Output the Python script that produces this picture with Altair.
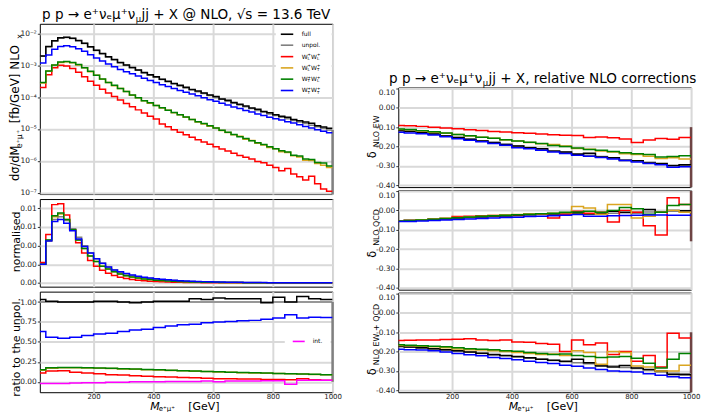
import altair as alt
import pandas as pd

FONT = "DejaVu Sans"
W = 294  # plot width of every panel

# ---------------------------------------------------------------- binning
FINE_EDGES = list(range(20, 1001, 20))            # 49 bins of 20 GeV
COARSE_EDGES = [20] + list(range(40, 1001, 40))   # 20-40 GeV, then 40 GeV bins

# ------------------------------------------- log10( dsigma/dM [fb/GeV] )
LOG_FULL = [-2.71, -2.41, -2.23, -2.14, -2.12, -2.15, -2.22, -2.31, -2.42, -2.53,
            -2.63, -2.73, -2.82, -2.91, -2.99, -3.07, -3.15, -3.23, -3.30, -3.36,
            -3.44, -3.50, -3.57, -3.63, -3.69, -3.76, -3.81, -3.87, -3.93, -3.98,
            -4.06, -4.10, -4.17, -4.22, -4.28, -4.34, -4.38, -4.45, -4.49, -4.55,
            -4.60, -4.63, -4.70, -4.74, -4.78, -4.82, -4.90, -4.94, -4.98]
LOG_UNPOL = [-2.72, -2.42, -2.24, -2.15, -2.13, -2.16, -2.23, -2.32, -2.43, -2.54,
             -2.64, -2.74, -2.83, -2.92, -3.00, -3.08, -3.16, -3.24, -3.31, -3.38,
             -3.45, -3.52, -3.58, -3.65, -3.71, -3.77, -3.83, -3.89, -3.95, -4.01,
             -4.07, -4.13, -4.19, -4.25, -4.30, -4.36, -4.42, -4.47, -4.53, -4.58,
             -4.63, -4.68, -4.73, -4.78, -4.83, -4.88, -4.93, -4.98, -5.03]
LOG_LL = [-3.70, -3.30, -3.08, -3.00, -3.02, -3.10, -3.22, -3.36, -3.50, -3.63,
          -3.75, -3.87, -3.98, -4.09, -4.20, -4.30, -4.40, -4.50, -4.60, -4.69,
          -4.84, -4.93, -5.02, -5.10, -5.18, -5.26, -5.34, -5.41, -5.48, -5.56,
          -5.63, -5.69, -5.76, -5.83, -5.89, -5.94, -6.02, -6.06, -6.14, -6.21,
          -6.31, -6.24, -6.41, -6.50, -6.60, -6.48, -6.72, -6.88, -6.95]
LOG_LT = [-3.56, -3.19, -3.00, -2.91, -2.89, -2.92, -2.99, -3.08, -3.20, -3.31,
          -3.44, -3.54, -3.64, -3.73, -3.82, -3.94, -4.02, -4.11, -4.19, -4.26,
          -4.34, -4.41, -4.49, -4.55, -4.63, -4.70, -4.78, -4.84, -4.91, -4.97,
          -5.05, -5.11, -5.18, -5.23, -5.32, -5.36, -5.45, -5.50, -5.58, -5.62,
          -5.71, -5.74, -5.84, -5.88, -5.98, -5.99, -6.08, -6.14, -6.21]
LOG_TL = [-3.54, -3.18, -2.99, -2.90, -2.88, -2.91, -2.98, -3.08, -3.19, -3.31,
          -3.43, -3.54, -3.63, -3.73, -3.82, -3.93, -4.02, -4.11, -4.18, -4.26,
          -4.33, -4.41, -4.48, -4.55, -4.62, -4.70, -4.77, -4.83, -4.90, -4.97,
          -5.04, -5.10, -5.17, -5.24, -5.30, -5.37, -5.43, -5.49, -5.56, -5.62,
          -5.68, -5.72, -5.82, -5.85, -5.94, -5.96, -6.05, -6.07, -6.16]
LOG_TT = [-2.93, -2.68, -2.50, -2.41, -2.39, -2.42, -2.48, -2.56, -2.67, -2.77,
          -2.87, -2.96, -3.05, -3.13, -3.20, -3.27, -3.34, -3.41, -3.48, -3.54,
          -3.61, -3.67, -3.73, -3.79, -3.85, -3.90, -3.96, -4.02, -4.08, -4.13,
          -4.19, -4.25, -4.31, -4.36, -4.42, -4.47, -4.53, -4.58, -4.63, -4.68,
          -4.72, -4.77, -4.81, -4.87, -4.92, -4.97, -5.02, -5.07, -5.12]

# ------------------------------------------------ normalised shapes [1/GeV]
NORM_UNPOL = [0.0021, 0.0046, 0.0068, 0.0071, 0.0067, 0.0058, 0.0049, 0.0040, 0.0032, 0.0026,
              0.0021, 0.0017, 0.0014, 0.00115, 0.00095, 0.00079, 0.00066, 0.00055, 0.00047, 0.0004,
              0.00034, 0.00029, 0.00025, 0.00021, 0.00018, 0.00016, 0.00014, 0.00012, 0.0001, 0.00009,
              0.00008, 0.00007, 0.00006, 0.00005, 0.000045, 0.00004, 0.000035, 0.00003, 0.000027, 0.000024,
              0.000021, 0.000019, 0.000017, 0.000015, 0.000013, 0.000012, 0.000011, 0.00001, 0.000009]
NORM_LL = [0.0022, 0.0052, 0.0084, 0.0085, 0.0073, 0.0057, 0.0043, 0.0032, 0.0024, 0.0018,
           0.00135, 0.00103, 0.0008, 0.00062, 0.00048, 0.00038, 0.0003, 0.00024, 0.00019, 0.00015,
           0.00012, 0.0001, 0.00008, 0.000065, 0.000053, 0.000043, 0.000036, 0.00003, 0.000025, 0.000021,
           0.000018, 0.000015, 0.000013, 0.000011, 0.0000095, 0.000008, 0.000007, 0.000006, 0.000005, 0.0000045,
           0.000004, 0.0000035, 0.000003, 0.0000027, 0.0000024, 0.000002, 0.0000018, 0.0000016, 0.0000014]
NORM_LT = [0.0020, 0.0045, 0.0071, 0.0074, 0.0068, 0.0057, 0.0046, 0.0037, 0.0029, 0.0023,
           0.0018, 0.0015, 0.0012, 0.00095, 0.00078, 0.00064, 0.00052, 0.00043, 0.00036, 0.0003,
           0.00025, 0.00021, 0.00018, 0.00015, 0.00013, 0.00011, 0.000095, 0.00008, 0.00007, 0.00006,
           0.00005, 0.000045, 0.00004, 0.000035, 0.00003, 0.000026, 0.000023, 0.00002, 0.000018, 0.000016,
           0.000014, 0.000012, 0.000011, 0.00001, 0.000009, 0.000008, 0.000007, 0.0000065, 0.000006]
NORM_TL = [0.0020, 0.0046, 0.0072, 0.0075, 0.0068, 0.0057, 0.0046, 0.0037, 0.0029, 0.0023,
           0.0018, 0.0015, 0.0012, 0.00095, 0.00078, 0.00064, 0.00052, 0.00043, 0.00036, 0.0003,
           0.00025, 0.00021, 0.00018, 0.00015, 0.00013, 0.00011, 0.000095, 0.00008, 0.00007, 0.00006,
           0.00005, 0.000045, 0.00004, 0.000035, 0.00003, 0.000026, 0.000023, 0.00002, 0.000018, 0.000016,
           0.000014, 0.000012, 0.000011, 0.00001, 0.000009, 0.000008, 0.000007, 0.0000065, 0.000006]
NORM_TT = [0.0020, 0.0045, 0.0066, 0.0068, 0.0064, 0.0056, 0.0047, 0.0039, 0.0032, 0.0026,
           0.0021, 0.0017, 0.0014, 0.0012, 0.0010, 0.00085, 0.00072, 0.00062, 0.00053, 0.00045,
           0.00039, 0.00033, 0.00028, 0.00024, 0.00021, 0.00018, 0.00016, 0.00014, 0.00012, 0.0001,
           0.00009, 0.00008, 0.00007, 0.00006, 0.000052, 0.000046, 0.00004, 0.000035, 0.000031, 0.000027,
           0.000024, 0.000021, 0.000019, 0.000017, 0.000015, 0.000013, 0.000012, 0.000011, 0.00001]

# ------------------------------------------------ ratios to the unpolarised
RAT_FULL = [1.03, 1.01, 1.00, 1.00, 1.00, 1.01, 1.01, 1.00, 0.99, 1.00, 1.01, 1.01, 1.01,
            1.04, 1.03, 1.05, 1.04, 1.04, 1.04, 0.99, 1.06, 1.00, 1.07, 1.04, 1.03]
RAT_UNPOL = [1.0] * 25
RAT_LL = [0.11, 0.135, 0.14, 0.12, 0.11, 0.10, 0.09, 0.085, 0.075, 0.07, 0.065, 0.06, 0.055,
          0.05, 0.045, 0.04, 0.04, 0.035, 0.035, 0.03, 0.03, 0.025, 0.04, 0.025, 0.02]
RAT_LT = [0.145, 0.17, 0.177, 0.177, 0.174, 0.17, 0.167, 0.162, 0.157, 0.152, 0.148, 0.143, 0.138,
          0.133, 0.128, 0.123, 0.12, 0.115, 0.112, 0.108, 0.104, 0.1, 0.097, 0.093, 0.088]
RAT_TL = [0.15, 0.175, 0.18, 0.18, 0.177, 0.173, 0.17, 0.165, 0.16, 0.155, 0.15, 0.145, 0.14,
          0.135, 0.13, 0.125, 0.12, 0.117, 0.113, 0.11, 0.105, 0.1, 0.098, 0.095, 0.09]
RAT_TT = [0.63, 0.56, 0.545, 0.56, 0.58, 0.60, 0.61, 0.63, 0.65, 0.66, 0.68, 0.70, 0.715,
          0.72, 0.74, 0.75, 0.755, 0.765, 0.77, 0.785, 0.80, 0.84, 0.80, 0.81, 0.805]
RAT_INT = [-0.02, -0.02, -0.02, -0.015, -0.01, -0.01, -0.005, -0.005, 0.0, 0.0, 0.0, 0.005, 0.005,
           0.005, 0.01, 0.0, 0.01, 0.01, 0.01, 0.015, 0.015, -0.03, 0.02, 0.02, 0.02]

# ------------------------------------------------ relative NLO EW corrections
EW_FULL = [-0.118, -0.121, -0.127, -0.135, -0.146, -0.153, -0.163, -0.172, -0.179, -0.190, -0.197, -0.207, -0.212,
           -0.224, -0.228, -0.240, -0.235, -0.255, -0.258, -0.272, -0.274, -0.285, -0.288, -0.298, -0.295]
EW_UNPOL = [-0.120, -0.122, -0.128, -0.136, -0.145, -0.154, -0.162, -0.170, -0.180, -0.188, -0.198, -0.205, -0.214,
            -0.222, -0.230, -0.238, -0.245, -0.252, -0.260, -0.268, -0.275, -0.282, -0.290, -0.300, -0.298]
EW_LL = [-0.091, -0.093, -0.096, -0.100, -0.105, -0.108, -0.113, -0.117, -0.122, -0.125, -0.129, -0.132, -0.136,
         -0.139, -0.142, -0.143, -0.154, -0.151, -0.155, -0.161, -0.180, -0.166, -0.159, -0.162, -0.154]
EW_LT = [-0.112, -0.114, -0.120, -0.126, -0.132, -0.138, -0.146, -0.152, -0.158, -0.166, -0.172, -0.180, -0.186,
         -0.190, -0.198, -0.210, -0.214, -0.224, -0.228, -0.238, -0.242, -0.250, -0.262, -0.258, -0.265]
EW_TL = [-0.110, -0.112, -0.118, -0.124, -0.130, -0.138, -0.145, -0.152, -0.158, -0.165, -0.172, -0.178, -0.185,
         -0.195, -0.200, -0.208, -0.215, -0.220, -0.226, -0.232, -0.237, -0.242, -0.255, -0.252, -0.248]
EW_TT = [-0.127, -0.130, -0.134, -0.141, -0.150, -0.160, -0.168, -0.176, -0.185, -0.193, -0.206, -0.212, -0.220,
         -0.228, -0.236, -0.245, -0.250, -0.257, -0.265, -0.273, -0.280, -0.288, -0.295, -0.308, -0.305]

# ------------------------------------------------ relative NLO QCD corrections
QCD_FULL = [-0.054, -0.052, -0.049, -0.046, -0.043, -0.040, -0.036, -0.033, -0.031, -0.028, -0.026, -0.022, -0.020,
            -0.018, -0.014, -0.012, -0.018, -0.015, -0.005, -0.010, -0.012, 0.005, -0.010, 0.000, -0.002]
QCD_UNPOL = [-0.055, -0.053, -0.050, -0.047, -0.044, -0.041, -0.038, -0.035, -0.032, -0.030, -0.027, -0.025, -0.022,
             -0.020, -0.018, -0.015, -0.020, -0.018, -0.015, -0.012, -0.010, -0.008, -0.010, -0.005, -0.005]
QCD_LL = [-0.055, -0.053, -0.050, -0.046, -0.042, -0.032, -0.030, -0.028, -0.027, -0.025, -0.022, -0.020, -0.020,
          -0.040, -0.020, -0.005, -0.015, -0.010, -0.060, 0.000, -0.010, -0.080, -0.127, 0.065, 0.030]
QCD_LT = [-0.055, -0.052, -0.049, -0.045, -0.041, -0.037, -0.033, -0.030, -0.027, -0.024, -0.021, -0.019, -0.017,
          -0.015, -0.012, 0.020, 0.012, -0.020, 0.030, 0.030, -0.040, -0.030, -0.010, 0.000, -0.010]
QCD_TL = [-0.055, -0.053, -0.050, -0.046, -0.042, -0.038, -0.034, -0.030, -0.028, -0.025, -0.022, -0.020, -0.018,
          -0.015, -0.010, -0.008, -0.005, -0.010, 0.000, 0.015, 0.008, -0.020, -0.010, 0.025, 0.030]
QCD_TT = [-0.058, -0.057, -0.055, -0.052, -0.050, -0.047, -0.045, -0.042, -0.040, -0.037, -0.035, -0.032, -0.030,
          -0.028, -0.025, -0.022, -0.030, -0.030, -0.028, -0.026, -0.025, -0.024, -0.024, -0.025, -0.025]

# ------------------------------------------------ relative NLO EW + QCD corrections
EWQCD_FULL = [-0.172, -0.176, -0.180, -0.185, -0.190, -0.196, -0.202, -0.208, -0.215, -0.220, -0.225, -0.232, -0.240,
              -0.245, -0.250, -0.240, -0.258, -0.275, -0.280, -0.272, -0.285, -0.292, -0.300, -0.318, -0.320]
EWQCD_UNPOL = [-0.175, -0.178, -0.182, -0.186, -0.192, -0.198, -0.203, -0.210, -0.217, -0.222, -0.228, -0.234, -0.240,
               -0.246, -0.252, -0.258, -0.263, -0.270, -0.275, -0.282, -0.288, -0.295, -0.305, -0.312, -0.315]
EWQCD_LL = [-0.142, -0.141, -0.140, -0.140, -0.138, -0.136, -0.134, -0.140, -0.142, -0.140, -0.150, -0.152, -0.158,
            -0.162, -0.200, -0.140, -0.165, -0.155, -0.215, -0.200, -0.250, -0.220, -0.280, -0.105, -0.130]
EWQCD_LT = [-0.168, -0.170, -0.172, -0.175, -0.180, -0.186, -0.190, -0.192, -0.196, -0.200, -0.205, -0.210, -0.215,
            -0.212, -0.220, -0.195, -0.205, -0.265, -0.200, -0.205, -0.275, -0.280, -0.300, -0.300, -0.270]
EWQCD_TL = [-0.165, -0.167, -0.170, -0.172, -0.175, -0.180, -0.185, -0.188, -0.190, -0.195, -0.198, -0.205, -0.210,
            -0.215, -0.212, -0.220, -0.225, -0.230, -0.228, -0.225, -0.235, -0.260, -0.285, -0.240, -0.210]
EWQCD_TT = [-0.188, -0.190, -0.192, -0.196, -0.202, -0.210, -0.216, -0.222, -0.230, -0.236, -0.242, -0.250, -0.256,
            -0.262, -0.270, -0.276, -0.285, -0.292, -0.300, -0.303, -0.305, -0.315, -0.322, -0.330, -0.335]

COLORS = {"full": "#000000", "unpol": "#808080", "LL": "#ff0000", "LT": "#daa520",
          "TL": "#008000", "TT": "#0000ff", "int": "#ff00ff"}
DRAW_ORDER = ["unpol", "full", "LL", "LT", "TL", "TT"]
EDGE_COLOR = "#6e4444"

XSCALE = alt.Scale(domain=[20, 1000], nice=False, zero=False)
XTICKS = [200, 400, 600, 800, 1000]
MINUS_FIX = "replace(format(datum.value, '.2f'), '\u2212', '-')"
LOG_LABELS = ("datum.value < 3e-7 ? '10\u207b\u2077' : datum.value < 3e-6 ? '10\u207b\u2076' : "
              "datum.value < 3e-5 ? '10\u207b\u2075' : datum.value < 3e-4 ? '10\u207b\u2074' : "
              "datum.value < 3e-3 ? '10\u207b\u00b3' : '10\u207b\u00b2'")


def x_axis(labels):
    return alt.Axis(values=XTICKS, labels=labels, ticks=False, tickSize=0, title=None, grid=True,
                    labelFlush=False, labelPadding=0, labelFontSize=7, format="d")


def y_axis(values, expr, flush=False):
    return alt.Axis(values=values, labelExpr=expr, title=None, grid=True, labelOverlap=False,
                    labelFlush=flush)


def histograms(edges, table, keys, yscale, yaxis, xaxis, log=False):
    layers = []
    for k in keys:
        vals = [10 ** v for v in table[k]] if log else list(table[k])
        df = pd.DataFrame({"m": edges, "v": vals + [vals[-1]]})
        layers.append(
            alt.Chart(df)
            .mark_line(interpolate="step-after", color=COLORS[k], strokeWidth=1.5, clip=True)
            .encode(x=alt.X("m:Q", scale=XSCALE, axis=xaxis),
                    y=alt.Y("v:Q", scale=yscale, axis=yaxis))
        )
    return layers


def edge_drop(top, bottom, color, yscale, yaxis, xaxis):
    # closing vertical edge of the last histogram bin
    df = pd.DataFrame({"m": [1000], "a": [top], "b": [bottom]})
    return (alt.Chart(df).mark_rule(color=color, strokeWidth=2.5)
            .encode(x=alt.X("m:Q", scale=XSCALE, axis=xaxis),
                    y=alt.Y("a:Q", scale=yscale, axis=yaxis), y2="b:Q"))


def txt(s, x, y, size, align="left", angle=0, style="normal", baseline="alphabetic", color="black"):
    return (alt.Chart(pd.DataFrame({"t": [s]}))
            .mark_text(font=FONT, fontSize=size, align=align, angle=angle, fontStyle=style,
                       baseline=baseline, color=color)
            .encode(x=alt.value(x), y=alt.value(y), text="t:N"))


def box(x1, x2, y1, y2, fill="white", opacity=1.0):
    return (alt.Chart(pd.DataFrame({"a": [0]}))
            .mark_rect(fill=fill, opacity=opacity)
            .encode(x=alt.value(x1), x2=alt.value(x2), y=alt.value(y1), y2=alt.value(y2)))


def seg(x1, x2, y, color):
    return (alt.Chart(pd.DataFrame({"a": [0]}))
            .mark_rule(color=color, strokeWidth=1.6)
            .encode(x=alt.value(x1), x2=alt.value(x2), y=alt.value(y)))


def w_pair(x, y, a, b):
    # "W^+_a W^+_b" with stacked super- and subscripts
    return [txt("W", x, y, 6), txt("+", x + 5.9, y - 2.6, 4), txt(a, x + 5.9, y + 1.3, 4),
            txt("W", x + 9.4, y, 6), txt("+", x + 15.3, y - 2.6, 4), txt(b, x + 15.3, y + 1.3, 4)]


def m_title(y):
    # "M_{e+mu+} [GeV]" below the bottom panels
    return [txt("M", 111, y, 11, style="italic"), txt("e\u207a\u03bc\u207a", 119.5, y + 1.2, 7),
            txt("[GeV]", 149, y, 11)]


def process_title(x_join, tail):
    # "p p -> e+ nu_e mu+ nu_mu" with a lowered mu, followed by the rest
    return [txt("p p  \u2192 e\u207a\u03bd\u2091\u03bc\u207a\u03bd", x_join, -5, 13.6, align="right"),
            txt("\u03bc", x_join + 0.3, -2, 8.5),
            txt(tail, x_join + 6, -5, 13.6)]


# ================================================================ left column
TOP = {"full": LOG_FULL, "unpol": LOG_UNPOL, "LL": LOG_LL, "LT": LOG_LT, "TL": LOG_TL, "TT": LOG_TT}
ysc_top = alt.Scale(type="log", domain=[9.1e-8, 2.0e-2], nice=False)
yax_top = y_axis([1e-7, 1e-6, 1e-5, 1e-4, 1e-3, 1e-2], LOG_LABELS)
xax_hide = x_axis(False)

legend_rows = [("full", 10.5), ("unpol", 21.5), ("LL", 33.0), ("LT", 44.3), ("TL", 55.6), ("TT", 67.0)]
legend = [box(237, 293, 3, 73)]
for key, ly in legend_rows:
    legend.append(seg(242, 254.5, ly, COLORS[key]))
legend += [txt("full", 263, 12.5, 6), txt("unpol.", 263, 23.5, 6)]
legend += w_pair(263, 35.0, "L", "L") + w_pair(263, 46.3, "L", "T")
legend += w_pair(263, 57.6, "T", "L") + w_pair(263, 69.0, "T", "T")

top_left = alt.layer(
    box(-39, 0, -22, 0, opacity=0.0),
    box(294, 306, 0, 1, opacity=0.0),
    edge_drop(10 ** LOG_UNPOL[-1], 9.1e-8, COLORS["unpol"], ysc_top, yax_top, xax_hide),
    *histograms(FINE_EDGES, TOP, DRAW_ORDER, ysc_top, yax_top, xax_hide, log=True),
    *legend,
    *process_title(96, "jj + X @ NLO, \u221as = 13.6 TeV"),
    txt("d\u03c3/dM", -21, 158, 11.5, angle=270),
    txt("e\u207a\u03bc\u207a", -18, 125, 8, angle=270),
    txt("[fb/GeV]  NLO", -21, 100, 12, angle=270),
    txt("x", -18, 15, 8, angle=270),
).properties(width=W, height=171)

NORM = {"unpol": NORM_UNPOL, "LL": NORM_LL, "LT": NORM_LT, "TL": NORM_TL, "TT": NORM_TT}
ysc_norm = alt.Scale(domain=[-0.0004, 0.009], nice=False, zero=False)
yax_norm = y_axis([0, 0.002, 0.004, 0.006, 0.008], "format(datum.value, '.2f')")
mid_left = alt.layer(
    *histograms(FINE_EDGES, NORM, ["unpol", "LL", "LT", "TL", "TT"], ysc_norm, yax_norm, xax_hide),
    txt("normalised", -20, 43, 11, align="center", angle=270),
).properties(width=W, height=88)

RAT = {"full": RAT_FULL, "unpol": RAT_UNPOL, "LL": RAT_LL, "LT": RAT_LT, "TL": RAT_TL, "TT": RAT_TT,
       "int": RAT_INT}
ysc_rat = alt.Scale(domain=[-0.13, 1.13], nice=False, zero=False)
yax_rat = y_axis([0, 0.25, 0.5, 0.75, 1.0], "format(datum.value, '.2f')")
xax_show = x_axis(True)
ratio_left = alt.layer(
    edge_drop(RAT_UNPOL[-1], 0.0, COLORS["unpol"], ysc_rat, yax_rat, xax_show),
    *histograms(COARSE_EDGES, RAT, DRAW_ORDER + ["int"], ysc_rat, yax_rat, xax_show),
    box(246, 292, 43, 57),
    seg(254, 266, 50, COLORS["int"]),
    txt("int.", 274, 52, 6),
    txt("ratio to the unpol.", -20, 56, 11, align="center", angle=270),
    *m_title(118.8),
).properties(width=W, height=101)

left = alt.vconcat(top_left, mid_left, ratio_left, spacing=5, bounds="flush")

# ================================================================ right column
ysc_corr = alt.Scale(domain=[-0.41, 0.105], nice=False, zero=False)
yax_corr = y_axis([-0.4, -0.3, -0.2, -0.1, 0.0, 0.1], MINUS_FIX, flush=True)


def corr_panel(table, sub, d_y, sub_y, xaxis, edge, extra=()):
    return alt.layer(
        box(-40, 0, 0, 1, opacity=0.0),
        edge_drop(edge[0], edge[1], EDGE_COLOR, ysc_corr, yax_corr, xaxis),
        *histograms(COARSE_EDGES, table, DRAW_ORDER, ysc_corr, yax_corr, xaxis),
        txt("\u03b4", -22, d_y, 11.5, angle=270),
        txt(sub, -19.5, sub_y, 8, angle=270),
        *extra,
    ).properties(width=W, height=100)


EW = {"full": EW_FULL, "unpol": EW_UNPOL, "LL": EW_LL, "LT": EW_LT, "TL": EW_TL, "TT": EW_TT}
QCD = {"full": QCD_FULL, "unpol": QCD_UNPOL, "LL": QCD_LL, "LT": QCD_LT, "TL": QCD_TL, "TT": QCD_TT}
EWQCD = {"full": EWQCD_FULL, "unpol": EWQCD_UNPOL, "LL": EWQCD_LL, "LT": EWQCD_LT, "TL": EWQCD_TL,
         "TT": EWQCD_TT}

ew_panel = corr_panel(EW, "NLO EW", 71, 60, xax_hide, (-0.10, -0.41),
                      extra=process_title(84.5, "jj + X, relative NLO corrections"))
qcd_panel = corr_panel(QCD, "NLO QCD", 68, 56, xax_hide, (0.10, -0.16))
ewqcd_panel = corr_panel(EWQCD, "NLO EW + QCD", 83, 73, xax_show, (-0.10, -0.41), extra=m_title(117.8))

spacer = alt.layer(
    box(0, 1, -22, 0, opacity=0.0),
).properties(width=W, height=61, view=alt.ViewBackground(stroke=None))

right = alt.vconcat(spacer, ew_panel, qcd_panel, ewqcd_panel, spacing=3, bounds="flush")

chart = (
    alt.hconcat(left, right, spacing=12)
    .properties(padding=0, background="white")
    .configure_view(stroke="black", strokeWidth=1)
    .configure_axis(labelFont=FONT, labelFontSize=7.5, labelColor="#222222", gridColor="#d9d9d9",
                    gridWidth=2, tickColor="#000000", tickSize=2.5, tickWidth=0.8, domain=False,
                    labelPadding=1)
)

chart.save("out.html", embed_options={"renderer": "svg", "actions": False})
